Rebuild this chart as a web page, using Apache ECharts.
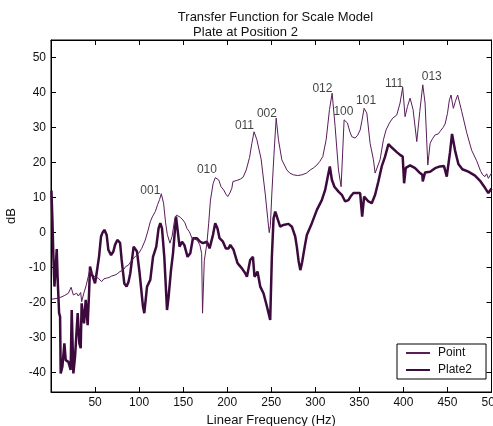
<!DOCTYPE html>
<html>
<head>
<meta charset="utf-8">
<script src="https://cdn.jsdelivr.net/npm/echarts@6/dist/echarts.min.js"></script>
<style>
html,body{margin:0;padding:0;background:#fff;}
#chart{width:493px;height:426px;}
</style>
</head>
<body>
<div id="chart"></div>
<script>
// ---- data ----
var pointFreq = [1,3,8.8,10.3,15,19.7,22.8,25.4,29,31,33.7,34.8,37,40,44,47,50,53.7,57.5,60,63,66,68.8,72.7,75,78.3,82,84.7,87.8,92,96,99.5,103,107,110,112.7,115,118.4,121,123.3,125.2,127.8,130,132,135,137.5,140.5,142.5,146.7,149.8,152,154.3,157,160,165.7,169,171,172,174,177,179,181,184,186.5,188.5,190.5,193,196,198.5,200.6,203,205.3,206.5,211,215,218,221.6,225.4,228,230.5,233.7,238.5,243.2,246,247.7,249,250.7,253,255.6,258.2,262,267.7,271,275.3,280,284.8,290,294.2,298,301.8,305,308.5,312.3,316.1,319.1,322.5,326.3,329.3,332.7,336.5,339,341.4,345.2,348,350.9,353,355.4,358.5,362.2,366,367.9,370,373.5,377.3,380.3,384.1,387.9,392.5,396.2,399.2,401.9,404.6,407.6,411,415.2,418.6,422,424.6,427.7,430.3,433,436,439.7,441.6,445,447.3,450,452.2,454.1,455.6,456.7,459,461.6,462.4,466.2,471.9,477.5,483.2,487.7,490,492.6,494.5,496.4,498,500];
var pointDb = [-19,-18.7,-18.7,-18.5,-18,-17.3,-15.6,-17.8,-17.3,-18.1,-17.1,-19.7,-17.5,-15,-10.7,-12,-12.6,-13,-14,-13.2,-13,-12.8,-12.4,-12.1,-11.8,-11.1,-10.7,-9.7,-9.3,-7.8,-6.7,-5.9,-4.5,-2.1,0.5,3.1,4.5,6,8,9.5,11.1,8.4,3,-0.5,-3,-1,4,5,4.4,3.6,2.8,1.2,0.3,-1.6,-2.1,-3.5,-6,-23,-8,-3,2.7,9.3,14,15.7,15.9,15,13.1,12.2,11,10.3,11.3,12.7,14.6,14.9,15.3,15.8,17.9,21.5,25.5,28.8,26.5,21,11,4,0,2,11.3,22,32.7,26.5,20.8,17.9,17,16.5,16.3,16.5,17,17.9,18.5,19.3,20.3,21.7,26.5,35.1,39.8,30.3,17.9,13.1,32.2,31.3,29,27.4,27,27.8,29.3,32,35.5,34.1,25.5,20.8,17,17.5,20.8,26.5,29.3,31.3,32.7,33.6,37,41.5,33.1,36,38.4,35.1,26,34.6,42.2,37,19.3,25.5,26.8,27.9,28.2,28.9,30,31,34,37.9,39.3,37,35.5,37.5,39.3,39,34.6,28.5,23.5,20.5,17.5,16.5,16,16.8,15.5,15.8,17];

var plateFreq = [0.5,1.6,2.7,3.9,5.4,6.5,7.6,9.2,10.3,11,12.9,15.2,16.7,19.7,22.3,23.5,25.4,27.3,30.3,32.2,33.7,34.8,37.5,39.4,41.6,43.2,44.3,46.2,48,50,51.8,54.5,56.8,58.5,60.6,63.2,65.1,68.2,70.8,72.7,75.3,78.4,80.2,83.2,85.8,88,90,93.8,95.5,97.6,100.6,104.4,105.9,109,112.7,115.8,119.5,122.1,124.1,126,128.6,131.7,133.5,136.2,138.5,141.9,143.7,145.9,148.7,151.3,155,158.1,161.1,165.7,169.4,172.5,177,180,183.8,186.4,189,191.3,195.2,198.5,201.5,203.5,207.2,211.7,216.7,220.5,222.4,226.1,229.2,231,234.4,237.5,241.2,245.1,248.8,250.7,252.6,254.5,256.4,260.1,263.9,269.6,273.4,277.2,279,281,283,285,288,290.4,296.1,301.8,307.4,311.2,314.2,316.5,318.8,321.7,326.3,330.1,333.9,337.6,340,343.3,347.1,350.9,353.2,354,355.4,357,360.3,364.1,367.9,371.6,375.4,379.2,383,386.8,392.5,396.2,399.2,400.8,402.7,407.6,413.3,418.9,421.5,422,424.6,430.3,436,441.6,446.1,449.2,449.9,452.9,455.2,458.6,462.4,466.9,473.7,481.3,487,492.6,496.4,498,500];
var plateDb = [12,3.6,-6.9,-15.4,-9.7,-4.7,-13.5,-23,-24,-40.2,-38.3,-31.6,-36.4,-36.9,-39.2,-22.1,-40.2,-35.4,-23,-31.6,-33,-20.2,-25.9,-19.2,-26.4,-17.3,-9.7,-11.6,-13,-14.5,-11.6,-6.9,-1.1,0,0.8,-0.7,-4.9,-6.4,-5.4,-3.5,-2.1,-2.9,-7.8,-14.5,-15.4,-14,-11.6,-4,-4.5,-5.4,-11.6,-21.1,-23,-15.4,-13.5,-6.9,-4,1.2,2.7,1.2,-6.9,-22.1,-18.3,-10.7,-5.9,4.6,0.8,-4,-2.6,-3.5,-6.9,-5.9,-1.6,-1.6,-2.6,-3,-2.6,-4.5,-0.7,2.7,1.2,-1.6,-2.6,-4.5,-4.5,-3.5,-4.9,-8.7,-10.2,-11.6,-12.6,-7.8,-6.9,-12.6,-11.1,-15.4,-17.3,-21.1,-24.9,-6.9,4,6,4.6,1.7,2.2,2.5,1.7,-1.1,-4,-8,-10.7,-8.5,-4,-0.7,2.7,6.5,9.3,12.2,16,18.9,15.1,13.1,11.7,10.8,8.9,9.3,10.3,11.3,11.3,11.3,4.6,4.4,10.3,10,8.9,8.4,10.8,14.6,18.9,21.7,25.3,24.3,23,22.2,21.7,14.1,18.5,19.2,18.4,17,16.5,14.6,17.2,17.4,18.4,18.9,19,16,15.5,22.9,28.2,23.5,19.6,18.1,17.4,16.3,14.8,12.8,11.3,11.8,12.6];

var modeNames = ['001','010','011','002','012','100','101','111','013'];
var modeFreq = [112.8,177.0,219.6,245.1,308.1,331.9,357.7,389.4,432.2];
var modeDb = [12.1,17.9,30.5,34.0,41.1,34.5,37.8,42.5,44.5];

var xTicks = [50,100,150,200,250,300,350,400,450,500];
var yTicks = [-40,-30,-20,-10,0,10,20,30,40,50];

var titleLine1 = 'Transfer Function for Scale Model';
var titleLine2 = 'Plate at Position 2';
var xName = 'Linear Frequency (Hz)';
var yName = 'dB';

// ---- build ----
function zip(a, b) { var r = []; for (var i = 0; i < a.length; i++) r.push([a[i], b[i]]); return r; }
var modeData = modeNames.map(function (n, i) { return [modeFreq[i], modeDb[i], n]; });

var FONT = '"Liberation Sans", Arial, sans-serif';
var lineColorThin = '#5a1d5a';
var lineColorThick = '#3c0a3c';

var chart = echarts.init(document.getElementById('chart'), null, {renderer: 'canvas'});

function tickStyle(vals) {
  return {show: true, inside: true, length: 5, lineStyle: {color: '#000', width: 1}, customValues: vals};
}
var axisLineStyle = {show: true, onZero: false, lineStyle: {color: '#000', width: 1}};

var option = {
  animation: false,
  backgroundColor: '#fff',
  grid: {left: 51, right: 1.5, top: 40, bottom: 34, show: true, borderColor: '#000', borderWidth: 1,
         backgroundColor: 'transparent', outerBoundsMode: 'none', containLabel: false},
  graphic: [
    {type: 'text', x: 275.5, y: 17, style: {text: titleLine1, font: '13px ' + FONT, fill: '#111', align: 'center', verticalAlign: 'middle', textAlign: 'center', textVerticalAlign: 'middle'}},
    {type: 'text', x: 245.5, y: 32.5, style: {text: titleLine2, font: '13px ' + FONT, fill: '#111', align: 'center', verticalAlign: 'middle', textAlign: 'center', textVerticalAlign: 'middle'}}
  ],
  xAxis: [
    {
      type: 'value', position: 'bottom', min: 0, max: 500,
      splitLine: {show: false}, axisLine: axisLineStyle,
      name: xName, nameLocation: 'middle', nameGap: 20,
      nameTextStyle: {fontSize: 13, fontFamily: FONT, color: '#111'},
      axisTick: tickStyle(xTicks),
      axisLabel: {show: true, color: '#111', fontSize: 12, fontFamily: FONT, margin: 5, customValues: xTicks}
    },
    {
      type: 'value', position: 'top', min: 0, max: 500,
      splitLine: {show: false}, axisLine: axisLineStyle,
      axisTick: tickStyle(xTicks),
      axisLabel: {show: false}
    }
  ],
  yAxis: [
    {
      type: 'value', position: 'left', min: -45.5, max: 55,
      splitLine: {show: false}, axisLine: axisLineStyle,
      name: yName, nameLocation: 'middle', nameGap: 28, nameRotate: 90,
      nameTextStyle: {fontSize: 13, fontFamily: FONT, color: '#111'},
      axisTick: tickStyle(yTicks),
      axisLabel: {show: true, color: '#111', fontSize: 12, fontFamily: FONT, margin: 5, customValues: yTicks}
    },
    {
      type: 'value', position: 'right', min: -45.5, max: 55,
      splitLine: {show: false}, axisLine: axisLineStyle,
      axisTick: tickStyle(yTicks),
      axisLabel: {show: false}
    }
  ],
  legend: {
    show: true,
    data: ['Point', 'Plate2'],
    orient: 'vertical',
    left: 397, top: 344,
    padding: [3, 14, 3, 8],
    itemWidth: 24, itemHeight: 12, itemGap: 5,
    borderColor: '#000', borderWidth: 1, borderRadius: 0,
    backgroundColor: '#fff',
    itemStyle: {opacity: 0},
    textStyle: {fontSize: 12, fontFamily: FONT, color: '#111', padding: [0, 0, 0, 3]}
  },
  series: [
    {
      name: 'Point', type: 'line', xAxisIndex: 0, yAxisIndex: 0,
      data: zip(pointFreq, pointDb),
      symbol: 'none', showSymbol: false, clip: true,
      lineStyle: {color: lineColorThin, width: 1},
      itemStyle: {color: lineColorThin},
      z: 3
    },
    {
      name: 'Plate2', type: 'line', xAxisIndex: 0, yAxisIndex: 0,
      data: zip(plateFreq, plateDb),
      symbol: 'none', showSymbol: false, clip: true,
      lineStyle: {color: lineColorThick, width: 2.5},
      itemStyle: {color: lineColorThick},
      z: 2
    },
    {
      name: 'modes', type: 'scatter', xAxisIndex: 0, yAxisIndex: 0,
      data: modeData, symbolSize: 0, silent: true,
      label: {show: true, position: 'inside', fontSize: 12, fontFamily: FONT, color: '#111',
        formatter: function (p) { return p.data[2]; }},
      z: 5
    },
    {
      name: 'frame', type: 'line', xAxisIndex: 1, yAxisIndex: 1,
      data: [], symbol: 'none', silent: true
    }
  ]
};
chart.setOption(option);
</script>
</body>
</html>
